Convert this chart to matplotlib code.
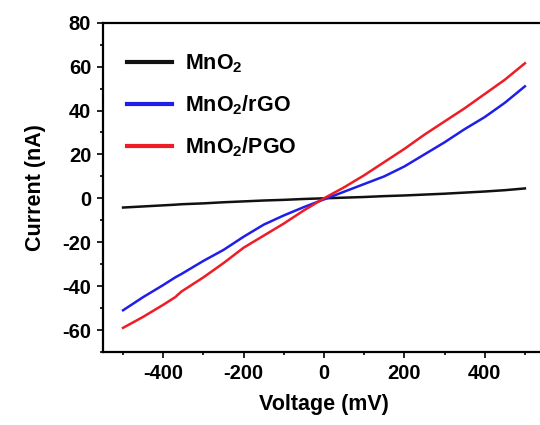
import numpy as np
import matplotlib
matplotlib.use("Agg")
import matplotlib.pyplot as plt
from matplotlib.ticker import MultipleLocator

plt.rcParams['font.family'] = ['Liberation Sans', 'DejaVu Sans']
plt.rcParams['font.weight'] = 'bold'
plt.rcParams['axes.unicode_minus'] = False
plt.rcParams['mathtext.fontset'] = 'custom'
plt.rcParams['mathtext.rm'] = 'Liberation Sans'
plt.rcParams['mathtext.bf'] = 'Liberation Sans:bold'

# voltage (mV) and current (nA)
voltage = [-500, -450, -400, -370, -355, -300, -250, -200, -150, -100, -50,
           0, 50, 100, 150, 200, 250, 300, 350, 400, 450, 500]
i_mno2 = [-4.2, -3.7, -3.2, -2.9, -2.7, -2.3, -1.8, -1.4, -1.0, -0.7, -0.3,
          0.0, 0.3, 0.6, 1.0, 1.3, 1.7, 2.1, 2.6, 3.1, 3.7, 4.5]
i_rgo = [-51, -45, -39.5, -36, -34.5, -28.5, -23.5, -17.5, -12, -7.8, -4,
         -0.5, 3, 6.5, 10, 14.5, 20, 25.5, 31.5, 37, 43.5, 51]
i_pgo = [-59, -54, -48.5, -45, -42.5, -36, -29.5, -22.5, -17, -11.5, -5.5,
         0, 5, 10.5, 16.5, 22.5, 29, 35, 41, 47.5, 54, 61.5]

labels = ['MnO$_\\mathbf{2}$', 'MnO$_\\mathbf{2}$/rGO', 'MnO$_\\mathbf{2}$/PGO']
colors = ['#111111', '#1f1fe8', '#ee1c25']

fig = plt.figure(figsize=(5.4, 4.25), dpi=100)
ax = fig.add_axes([0.1907, 0.1718, 0.8185, 0.7748])

for y, lab, c in zip([i_mno2, i_rgo, i_pgo], labels, colors):
    ax.plot(voltage, y, color=c, lw=1.8, label=lab)

ax.set_xlim(-550, 550)
ax.set_ylim(-70, 80)
ax.xaxis.set_major_locator(MultipleLocator(200))
ax.xaxis.set_minor_locator(MultipleLocator(100))
ax.yaxis.set_major_locator(MultipleLocator(20))
ax.yaxis.set_minor_locator(MultipleLocator(10))
ax.tick_params(which='major', direction='out', length=4.5, width=1.2,
               labelsize=14.5, pad=4)
ax.tick_params(which='minor', direction='out', length=2.5, width=1.2)
ax.tick_params(top=False, right=False, which='both')
for s in ax.spines.values():
    s.set_linewidth(1.6)

ax.set_xlabel('Voltage (mV)', fontsize=15.5, fontweight='bold', labelpad=8)
ax.set_ylabel('Current (nA)', fontsize=15.5, fontweight='bold', labelpad=12)

leg = ax.legend(loc='upper left', frameon=False, fontsize=15.5,
                handlelength=2.1, handletextpad=0.6, labelspacing=0.85,
                borderaxespad=0.3, bbox_to_anchor=(0.02, 0.955))
for h in leg.get_lines():
    h.set_linewidth(3)

fig.savefig('out.png', dpi=100)
